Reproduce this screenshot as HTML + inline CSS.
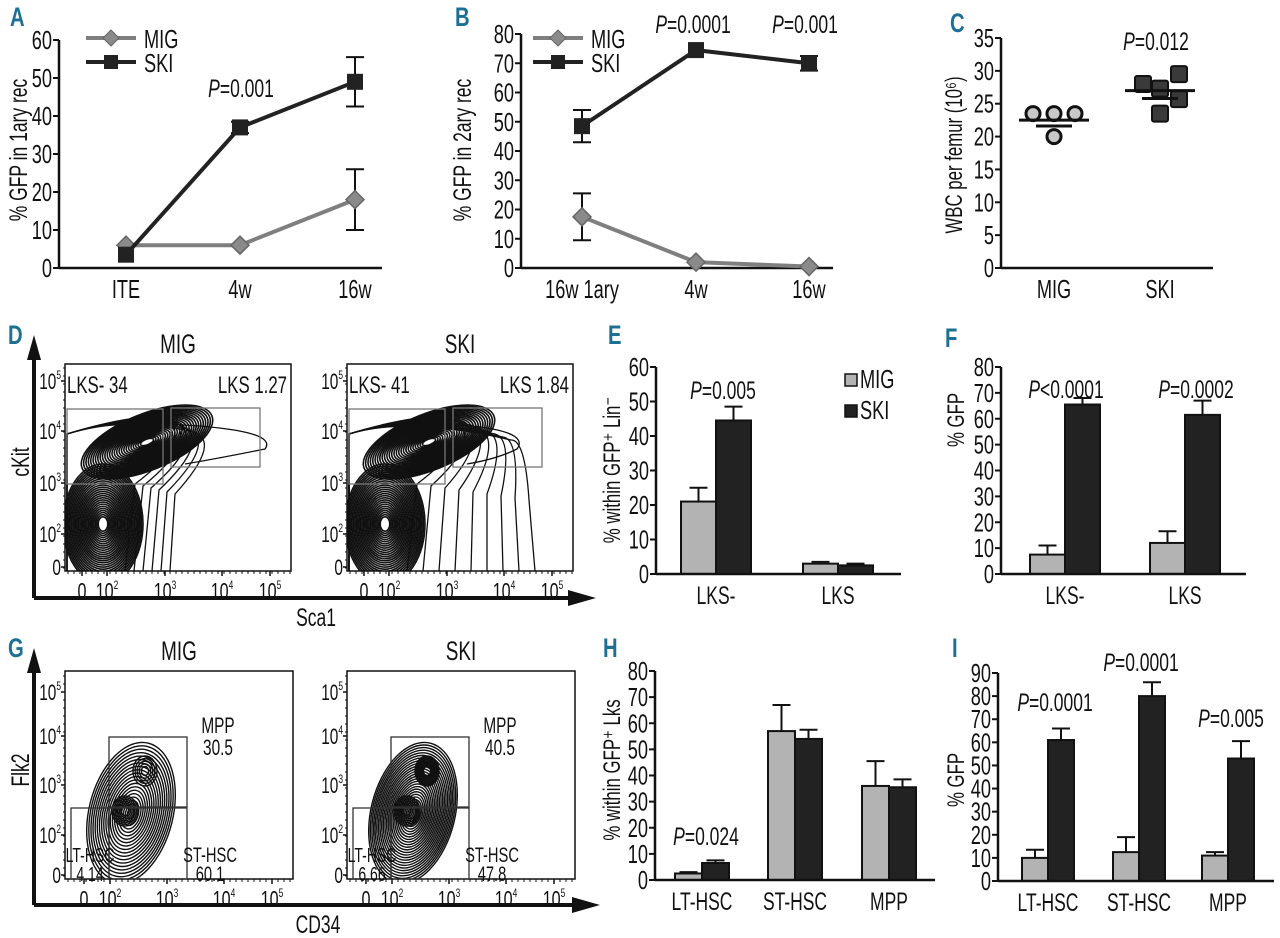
<!DOCTYPE html>
<html><head><meta charset="utf-8">
<style>
html,body{margin:0;padding:0;background:#fff;}
svg{display:block;font-family:"Liberation Sans",sans-serif;}
.lbl{font-family:"Liberation Sans",sans-serif;font-weight:bold;fill:#1d6f93;}
</style></head>
<body>
<svg id="fig" width="1280" height="938" viewBox="0 0 1280 938"></svg>
<script>
// ---------- data ----------
const aCats = ["ITE","4w","16w"];
const aMIG = [6, 6, 18];
const aMIGerr = [0.5, 0.5, 8];
const aSKI = [3.5, 37, 49];
const aSKIerr = [0.5, 1.5, 6.5];
const aTicks = [0,10,20,30,40,50,60];

const bCats = ["16w  1ary","4w","16w"];
const bMIG = [17.5, 2, 0.5];
const bMIGerr = [8, 0.5, 0.5];
const bSKI = [48.5, 74.5, 70];
const bSKIerr = [5.5, 1, 2.5];
const bTicks = [0,10,20,30,40,50,60,70,80];

const cCats = ["MIG","SKI"];
const cMIGpts = [23.5, 23.5, 23.5, 20];
const cMIGoff = [-21, 0, 21, 0];
const cSKIpts = [28, 27.3, 29.5, 25.7, 23.5];
const cSKIoff = [-17, 0, 19, 19, 0];
const cMean = [22.5, 27];
const cSem = [21.6, 25.8];
const cTicks = [0,5,10,15,20,25,30,35];

const eCats = ["LKS-","LKS"];
const eMIG = [21, 3];
const eMIGerr = [4, 0.5];
const eSKI = [44.5, 2.5];
const eSKIerr = [4, 0.5];
const eTicks = [0,10,20,30,40,50,60];

const fCats = ["LKS-","LKS"];
const fMIG = [7.5, 12];
const fMIGerr = [3.5, 4.5];
const fSKI = [65.5, 61.5];
const fSKIerr = [2.5, 5.5];
const fTicks = [0,10,20,30,40,50,60,70,80];

const hCats = ["LT-HSC","ST-HSC","MPP"];
const hMIG = [2.5, 57, 36];
const hMIGerr = [0.5, 10, 9.5];
const hSKI = [6.5, 54, 35.5];
const hSKIerr = [1, 3.5, 3];
const hTicks = [0,10,20,30,40,50,60,70,80];

const iCats = ["LT-HSC","ST-HSC","MPP"];
const iMIG = [10, 12.5, 11];
const iMIGerr = [3.5, 6.5, 1.5];
const iSKI = [61, 80, 53];
const iSKIerr = [5, 6, 7.5];
const iTicks = [0,10,20,30,40,50,60,70,80,90];

// ---------- helpers ----------
const NS = "http://www.w3.org/2000/svg";
const SX = 0.7;
const svg = document.getElementById("fig");
function mk(tag, attrs, name, parent){
  const el = document.createElementNS(NS, tag);
  for (const k in attrs) el.setAttribute(k, attrs[k]);
  
  
  (parent||svg).appendChild(el);
  return el;
}
function txt(x,y,s,size,name,opts){
  opts=opts||{};
  const t = mk("text",{x:0,y:0,"font-size":size,"text-anchor":opts.anchor||"middle",fill:opts.fill||"#111"},name);
  const sx = opts.sx||SX;
  if(opts.rot) t.setAttribute("transform","translate("+x+","+y+") rotate(-90) scale("+sx+",1)");
  else t.setAttribute("transform","translate("+x+","+y+") scale("+sx+",1)");
  if(opts.italicP){
    const a=document.createElementNS(NS,"tspan");a.setAttribute("font-style","italic");a.textContent="P";t.appendChild(a);
    const b=document.createElementNS(NS,"tspan");b.textContent=s;t.appendChild(b);
  } else t.textContent=s;
  return t;
}
function line(x1,y1,x2,y2,w,c,name){return mk("line",{x1:x1,y1:y1,x2:x2,y2:y2,stroke:c||"#111","stroke-width":w||2},name);}
function yScale(y0,yt,max){return v=>y0-(v/max)*(y0-yt);}
function yAxis(x,y0,yt,ticks,name){
  const max=ticks[ticks.length-1], ys=yScale(y0,yt,max);
  line(x,y0,x,yt,2.5,"#111",name+"-y-axis");
  ticks.forEach(t=>{
    line(x-6,ys(t),x,ys(t),2,"#111",name+"-y-tick");
    txt(x-7,ys(t)+9,String(t),26,name+"-y-tick-label",{anchor:"end"});
  });
  return ys;
}
function pText(x,y,s,name,size){txt(x,y,s,size||25,name,{italicP:true});}
function errBar(x,yv,ylo,yhi,w,name){
  line(x,ylo,x,yhi,2,"#111",name);
  line(x-w,yhi,x+w,yhi,2,"#111",name+"-cap");
  if(ylo!==null) line(x-w,ylo,x+w,ylo,2,"#111",name+"-cap-low");
}
function label(x,y,s){txt(x,y,s,27,"panel-label-"+s.toLowerCase(),{anchor:"start",fill:"#1d6f93",sx:0.75}).setAttribute("class","lbl");}

// ---------- line chart ----------
function lineChart(o){
  const ys=yAxis(o.x0,o.y0,o.yt,o.ticks,o.name);
  line(o.x0,o.y0,o.x1,o.y0,2.5,"#111",o.name+"-x-axis");
  o.cats.forEach((c,i)=>txt(o.xs[i],o.y0+30,c,26,o.name+"-x-label"));
  const series=[{v:o.mig,e:o.migE,c:"#7f7f7f",n:"mig"},{v:o.ski,e:o.skiE,c:"#222",n:"ski"}];
  series.forEach(s=>{
    const pts=s.v.map((v,i)=>o.xs[i]+","+ys(v)).join(" ");
    mk("polyline",{points:pts,fill:"none",stroke:s.c,"stroke-width":4},o.name+"-"+s.n+"-line");
    s.v.forEach((v,i)=>{
      if(s.e[i]>1) errBar(o.xs[i],ys(v),ys(v-s.e[i]),ys(v+s.e[i]),9,o.name+"-"+s.n+"-error");
      const x=o.xs[i],y=ys(v);
      if(s.n==="mig") mk("polygon",{points:`${x},${y-9} ${x+9},${y} ${x},${y+9} ${x-9},${y}`,fill:"#8a8a8a",stroke:"#666","stroke-width":1.5},o.name+"-mig-point");
      else mk("rect",{x:x-8,y:y-8,width:16,height:16,fill:"#222"},o.name+"-ski-point");
    });
  });
  const lx=o.lx, ly=o.ly;
  line(lx,ly,lx+50,ly,4,"#7f7f7f",o.name+"-legend-mig-line");
  mk("polygon",{points:`${lx+25},${ly-8} ${lx+33},${ly} ${lx+25},${ly+8} ${lx+17},${ly}`,fill:"#8a8a8a",stroke:"#666"},o.name+"-legend-mig-marker");
  txt(lx+58,ly+10,"MIG",26,o.name+"-legend-mig",{anchor:"start"});
  line(lx,ly+24,lx+50,ly+24,4,"#222",o.name+"-legend-ski-line");
  mk("rect",{x:lx+18,y:ly+17,width:14,height:14,fill:"#222"},o.name+"-legend-ski-marker");
  txt(lx+58,ly+34,"SKI",26,o.name+"-legend-ski",{anchor:"start"});
  txt(o.tx,o.ty,o.title,25,o.name+"-y-axis-title",{rot:true});
}

// ---------- bar chart ----------
function barChart(o){
  const ys=yAxis(o.x0,o.y0,o.yt,o.ticks,o.name);
  o.cats.forEach((c,i)=>{
    const l=o.xs[i], w=o.bw;
    [[o.mig,o.migE,"#b3b3b3","mig",l],[o.ski,o.skiE,"#222","ski",l+w]].forEach(s=>{
      const v=s[0][i], e=s[1][i];
      const cx=s[4]+w/2;
      line(cx,ys(v),cx,ys(v+e),2,"#111",o.name+"-"+s[3]+"-error");
      line(cx-9,ys(v+e),cx+9,ys(v+e),2,"#111",o.name+"-"+s[3]+"-error-cap");
      mk("rect",{x:s[4],y:ys(v),width:w,height:o.y0-ys(v),fill:s[2],stroke:"#111","stroke-width":2},o.name+"-bar-"+s[3]+"-"+c.toLowerCase());
    });
    txt(l+w,o.y0+30,c,25,o.name+"-x-label");
  });
  line(o.x0,o.y0,o.x1,o.y0,2.5,"#111",o.name+"-x-axis");
  txt(o.tx,o.ty,o.title,24,o.name+"-y-axis-title",{rot:true});
}

// ---------- panels A, B ----------
label(10,26,"A");
lineChart({name:"panel-a",x0:59,x1:382,y0:268,yt:40,ticks:aTicks,cats:aCats,xs:[126,240,355],
  mig:aMIG,migE:aMIGerr,ski:aSKI,skiE:aSKIerr,lx:86,ly:38,tx:27,ty:150,title:"% GFP in 1ary rec"});
pText(241,97,"=0.001","panel-a-p-value");

label(455,26,"B");
lineChart({name:"panel-b",x0:521,x1:833,y0:268,yt:34,ticks:bTicks,cats:bCats,xs:[582,696,809],
  mig:bMIG,migE:bMIGerr,ski:bSKI,skiE:bSKIerr,lx:533,ly:38,tx:471,ty:150,title:"% GFP in 2ary rec"});
pText(693,33,"=0.0001","panel-b-p-4w");
pText(805,33,"=0.001","panel-b-p-16w");

// ---------- panel C ----------
label(950,32,"C");
(function(){
  const ys=yAxis(1001,268,38,cTicks,"panel-c");
  line(1001,268,1213,268,2.5,"#111","panel-c-x-axis");
  const xs=[1054,1160];
  cCats.forEach((c,i)=>txt(xs[i],298,c,26,"panel-c-x-label"));
  cMIGpts.forEach((v,i)=>mk("circle",{cx:xs[0]+cMIGoff[i],cy:ys(v),r:7,fill:"#c8c8c8",stroke:"#111","stroke-width":3},"panel-c-mig-point"));
  cSKIpts.forEach((v,i)=>mk("rect",{x:xs[1]+cSKIoff[i]-8,y:ys(v)-8,width:16,height:16,rx:2,fill:"#3a3a3a",stroke:"#111","stroke-width":2},"panel-c-ski-point"));
  xs.forEach((x,i)=>{
    line(x-35,ys(cMean[i]),x+35,ys(cMean[i]),3,"#111","panel-c-mean-line");
    line(x-18,ys(cSem[i]),x+18,ys(cSem[i]),3,"#111","panel-c-sem-line");
  });
  txt(962,155,"WBC per femur (10⁶)",24,"panel-c-y-axis-title",{rot:true});
  pText(1156,50,"=0.012","panel-c-p-value");
})();

// ---------- flow plots ----------
function ticks10(bx,by,bw,bh,name,xs,ysArr){
  const xl=["0","10","10","10","10"], xe=["","2","3","4","5"];
  xs.forEach((x,i)=>{
    const t=txt(x,by+bh+28,xl[i],23,name+"-x-tick-label");
    if(xe[i]){const s=document.createElementNS(NS,"tspan");s.setAttribute("font-size","12");s.setAttribute("dy","-10");s.textContent=xe[i];t.appendChild(s);}
    line(x,by+bh,x,by+bh+5,1.5,"#111",name+"-x-tick");
  });
  const yl=["0","10","10","10","10"], ye=["","2","3","4","5"];
  ysArr.forEach((y,i)=>{
    const t=txt(bx-4,y+8,yl[i],22,name+"-y-tick-label",{anchor:"end"});
    if(ye[i]){const s=document.createElementNS(NS,"tspan");s.setAttribute("font-size","12");s.setAttribute("dy","-10");s.textContent=ye[i];t.appendChild(s);}
    line(bx-4,y,bx,y,1.5,"#111",name+"-y-tick");
  });
  for(let x=bx+3;x<bx+bw;x+=6) line(x,by+bh,x,by+bh+3,1,"#111",name+"-x-minor-tick");
  for(let y=by+bh-3;y>by;y-=8) line(bx-2,y,bx,y,1,"#111",name+"-y-minor-tick");
}
function contour(cx,cy,rx,ry,rot,n,minS,name,g,sw){
  for(let k=0;k<n;k++){
    const s=minS+(1-minS)*k/(n-1);
    mk("ellipse",{cx:cx,cy:cy,rx:rx*s,ry:ry*s,transform:`rotate(${rot} ${cx} ${cy})`,fill:"none",stroke:"#111","stroke-width":sw||1.5},name,g);
  }
}
function clipFor(nm,bx,by,bw,bh,g){
  const clip=mk("clipPath",{id:"clip"+nm},nm+"-clip");
  mk("rect",{x:bx,y:by,width:bw,height:bh},nm+"-clip-rect",clip);
  g.setAttribute("clip-path","url(#clip"+nm+")");
}
function flowD(bx,title,left,right,dense){
  const by=364,bw=226,bh=207, nm="panel-d-"+title.toLowerCase();
  txt(bx+bw/2,353,title,27,nm+"-title");
  const g=mk("g",{},nm+"-contours");
  clipFor(nm,bx,by,bw,bh,g);
  for(let k=0;k<(dense?9:6);k++){
    mk("path",{d:`M${bx+2},${by+bh} L${bx+2},${by+70} Q${bx+60},${by+52} ${bx+100+k*(dense?8:5)},${by+52+k*3} Q${bx+130+k*6},${by+75} ${bx+70+k*(dense?14:8)},${by+120+k*2} L${bx+60+k*(dense?16:9)},${by+bh}`,fill:"none",stroke:"#111","stroke-width":1.3},nm+"-outer-contour",g);
  }
  mk("path",{d:`M${bx+100},${by+60} Q${bx+(dense?185:215)},${by+65} ${bx+(dense?170:200)},${by+85} Q${bx+150},${by+95} ${bx+120},${by+100}`,fill:"none",stroke:"#111","stroke-width":1.3},nm+"-tail-contour",g);
  contour(bx+38,by+160,40,60,0,26,0.12,nm+"-lower-contour",g,1.6);
  contour(bx+82,by+78,70,28,-22,26,0.1,nm+"-upper-contour",g,1.6);
  mk("rect",{x:bx,y:by,width:bw,height:bh,fill:"none",stroke:"#111","stroke-width":1.5},nm+"-plot-box");
  mk("rect",{x:bx+2,y:by+45,width:96,height:75,fill:"none",stroke:"#777","stroke-width":1.3},nm+"-gate-lks-minus");
  mk("rect",{x:bx+106,y:by+44,width:89,height:59,fill:"none",stroke:"#777","stroke-width":1.3},nm+"-gate-lks");
  txt(bx+2,by+29,left,24,nm+"-lks-minus-value",{anchor:"start"});
  txt(bx+bw-4,by+29,right,24,nm+"-lks-value",{anchor:"end"});
  ticks10(bx,by,bw,bh,nm,[bx+17,bx+42,bx+100,bx+157,bx+205],[by+203,by+170,by+119,by+67,by+17]);
}
function flowG(bx,title,mpp,lt,st,dense){
  const by=671,bw=228,bh=208,nm="panel-g-"+title.toLowerCase();
  txt(bx+bw/2,660,title,27,nm+"-title");
  const g=mk("g",{},nm+"-contours");
  clipFor(nm,bx,by,bw,bh,g);
  contour(bx+66,by+142,42,72,14,dense?26:20,0.08,nm+"-main-contour",g,1.4);
  contour(bx+80,by+100,12,15,0,dense?10:5,0.3,nm+"-upper-peak-contour",g,1.4);
  contour(bx+60,by+140,13,15,0,7,0.3,nm+"-lower-peak-contour",g,1.4);
  mk("rect",{x:bx,y:by,width:bw,height:bh,fill:"none",stroke:"#111","stroke-width":1.5},nm+"-plot-box");
  mk("rect",{x:bx+44,y:by+66,width:78,height:70,fill:"none",stroke:"#333","stroke-width":1.3},nm+"-gate-mpp");
  mk("rect",{x:bx+6,y:by+137,width:38,height:71,fill:"none",stroke:"#333","stroke-width":1.3},nm+"-gate-lt-hsc");
  mk("rect",{x:bx+44,y:by+137,width:78,height:71,fill:"none",stroke:"#333","stroke-width":1.3},nm+"-gate-st-hsc");
  txt(bx+153,by+62,"MPP",22,nm+"-mpp-label");
  txt(bx+153,by+84,mpp,22,nm+"-mpp-value");
  txt(bx+25,by+191,"LT-HSC",20,nm+"-lt-hsc-label");
  txt(bx+25,by+210,lt,20,nm+"-lt-hsc-value");
  txt(bx+145,by+191,"ST-HSC",21,nm+"-st-hsc-label");
  txt(bx+145,by+210,st,21,nm+"-st-hsc-value");
  ticks10(bx,by,bw,bh,nm,[bx+19,bx+45,bx+102,bx+159,bx+207],[by+204,by+164,by+114,by+65,by+21]);
}

// panel D
label(8,344,"D");
line(34,598,570,598,4,"#111","panel-d-x-arrow-line");
line(34,598,34,355,4,"#111","panel-d-y-arrow-line");
mk("polygon",{points:"34,335 27,360 41,360"},"panel-d-y-arrowhead").setAttribute("fill","#111");
mk("polygon",{points:"596,598 568,590 568,606"},"panel-d-x-arrowhead").setAttribute("fill","#111");
txt(316,626,"Sca1",25,"panel-d-x-axis-title");
txt(29,462,"cKit",25,"panel-d-y-axis-title",{rot:true});
flowD(65,"MIG","LKS- 34","LKS 1.27",false);
flowD(347,"SKI","LKS- 41","LKS 1.84",true);

// panel G
label(8,657,"G");
line(34,905,575,905,4,"#111","panel-g-x-arrow-line");
line(34,905,34,665,4,"#111","panel-g-y-arrow-line");
mk("polygon",{points:"34,648 27,673 41,673"},"panel-g-y-arrowhead").setAttribute("fill","#111");
mk("polygon",{points:"600,905 572,897 572,913"},"panel-g-x-arrowhead").setAttribute("fill","#111");
txt(318,933,"CD34",25,"panel-g-x-axis-title");
txt(29,770,"Flk2",25,"panel-g-y-axis-title",{rot:true});
flowG(65,"MIG","30.5","4.14","60.1",false);
flowG(347,"SKI","40.5","6.66","47.8",true);

// panel E
label(608,344,"E");
barChart({name:"panel-e",x0:656,x1:901,y0:574,yt:367,ticks:eTicks,cats:eCats,xs:[681,803],bw:35,
  mig:eMIG,migE:eMIGerr,ski:eSKI,skiE:eSKIerr,tx:620,ty:470,title:"% within GFP⁺ Lin⁻"});
pText(723,399,"=0.005","panel-e-p-value");
mk("rect",{x:845,y:374,width:12,height:12,fill:"#b3b3b3",stroke:"#111","stroke-width":1.5},"panel-e-legend-mig-swatch");
txt(860,388,"MIG",26,"panel-e-legend-mig",{anchor:"start"});
mk("rect",{x:845,y:405,width:12,height:12,fill:"#222",stroke:"#111","stroke-width":1.5},"panel-e-legend-ski-swatch");
txt(860,419,"SKI",26,"panel-e-legend-ski",{anchor:"start"});

// panel F
label(945,347,"F");
barChart({name:"panel-f",x0:1001,x1:1246,y0:574,yt:367,ticks:fTicks,cats:fCats,xs:[1030,1150],bw:35,
  mig:fMIG,migE:fMIGerr,ski:fSKI,skiE:fSKIerr,tx:964,ty:420,title:"% GFP"});
pText(1066,398,"<0.0001","panel-f-p-lks-minus");
pText(1196,398,"=0.0002","panel-f-p-lks");

// panel H
label(603,657,"H");
barChart({name:"panel-h",x0:655,x1:935,y0:880,yt:671,ticks:hTicks,cats:hCats,xs:[675,768,862],bw:27,
  mig:hMIG,migE:hMIGerr,ski:hSKI,skiE:hSKIerr,tx:620,ty:770,title:"% within GFP⁺ Lks"});
pText(706,845,"=0.024","panel-h-p-value");

// panel I
label(952,657,"I");
barChart({name:"panel-i",x0:998,x1:1274,y0:881,yt:673,ticks:iTicks,cats:iCats,xs:[1022,1113,1202],bw:26,
  mig:iMIG,migE:iMIGerr,ski:iSKI,skiE:iSKIerr,tx:964,ty:780,title:"% GFP"});
pText(1055,711,"=0.0001","panel-i-p-lt-hsc");
pText(1141,671,"=0.0001","panel-i-p-st-hsc");
pText(1231,727,"=0.005","panel-i-p-mpp");
</script>
</body></html>
